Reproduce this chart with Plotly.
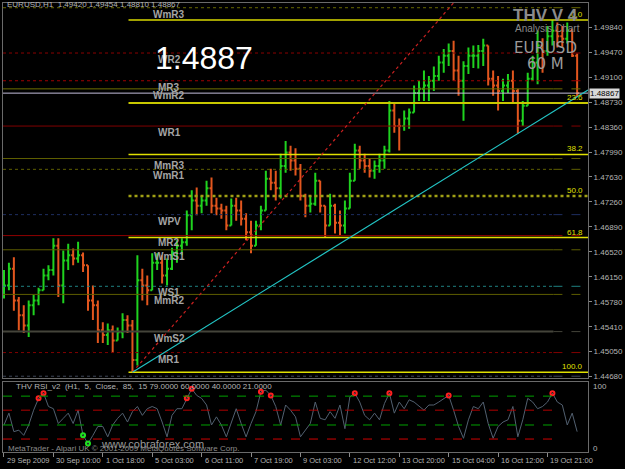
import plotly.graph_objects as go

# ---------------- data ----------------
open_first = 1.4590
high = [1.4625, 1.4636, 1.4644, 1.4585, 1.4573, 1.4580, 1.4588, 1.4599, 1.4627, 1.4632,
        1.4672, 1.4672, 1.4654, 1.4664, 1.4657, 1.4667, 1.4651, 1.4632, 1.4602, 1.4580,
        1.4548, 1.4546, 1.4543, 1.4540, 1.4561, 1.4558, 1.4551, 1.4647, 1.4627, 1.4617,
        1.4650, 1.4650, 1.4647, 1.4642, 1.4658, 1.4669, 1.4672, 1.4713, 1.4743, 1.4747,
        1.4735, 1.4757, 1.4762, 1.4732, 1.4723, 1.4720, 1.4731, 1.4732, 1.4728, 1.4709,
        1.4698, 1.4698, 1.4720, 1.4772, 1.4775, 1.4772, 1.4797, 1.4816, 1.4809, 1.4805,
        1.4782, 1.4738, 1.4735, 1.4769, 1.4757, 1.4720, 1.4738, 1.4723, 1.4713, 1.4728,
        1.4769, 1.4812, 1.4809, 1.4797, 1.4790, 1.4787, 1.4797, 1.4809, 1.4875, 1.4871,
        1.4849, 1.4861, 1.4864, 1.4898, 1.4905, 1.4920, 1.4912, 1.4926, 1.4942, 1.4952,
        1.4960, 1.4964, 1.4942, 1.4934, 1.4954, 1.4957, 1.4958, 1.4967, 1.4949, 1.4920,
        1.4912, 1.4908, 1.4915, 1.4920, 1.4893, 1.4875, 1.4917, 1.4942, 1.4979, 1.4968,
        1.4986, 1.4995, 1.4991, 1.4986, 1.4991, 1.4982, 1.49454]
low = [1.4583, 1.4595, 1.4565, 1.4536, 1.4532, 1.4526, 1.4558, 1.4573, 1.4595, 1.4610,
       1.4617, 1.4585, 1.4576, 1.4625, 1.4632, 1.4636, 1.4622, 1.4565, 1.4551, 1.4517,
       1.4517, 1.4514, 1.4503, 1.4521, 1.4524, 1.4532, 1.4474, 1.4484, 1.4580, 1.4573,
       1.4605, 1.4625, 1.4605, 1.4602, 1.4625, 1.4636, 1.4647, 1.4661, 1.4684, 1.4706,
       1.4709, 1.4720, 1.4709, 1.4706, 1.4701, 1.4684, 1.4691, 1.4698, 1.4691, 1.4669,
       1.4650, 1.4661, 1.4684, 1.4713, 1.4743, 1.4728, 1.4731, 1.4769, 1.4772, 1.4765,
       1.4728, 1.4703, 1.4710, 1.4720, 1.4710, 1.4673, 1.4695, 1.4679, 1.4676, 1.4679,
       1.4720, 1.4765, 1.4775, 1.4769, 1.4762, 1.4760, 1.4769, 1.4775, 1.4799, 1.4828,
       1.4802, 1.4831, 1.4834, 1.4861, 1.4875, 1.4875, 1.4875, 1.4890, 1.4905, 1.4917,
       1.4927, 1.4905, 1.4883, 1.4846, 1.4915, 1.4924, 1.4923, 1.4927, 1.4898, 1.4883,
       1.4861, 1.4875, 1.4887, 1.4871, 1.4827, 1.4838, 1.4868, 1.4905, 1.4900, 1.4917,
       1.4942, 1.4957, 1.4954, 1.4954, 1.4960, 1.4940, 1.4881]
close = [1.4602, 1.4627, 1.4580, 1.4558, 1.4543, 1.4573, 1.4580, 1.4595, 1.4617, 1.4625,
         1.4661, 1.4602, 1.4639, 1.4647, 1.4642, 1.4647, 1.4632, 1.4580, 1.4573, 1.4536,
         1.4529, 1.4536, 1.4521, 1.4533, 1.4551, 1.4543, 1.4492, 1.4610, 1.4602, 1.4595,
         1.4636, 1.4636, 1.4617, 1.4627, 1.4651, 1.4661, 1.4666, 1.4706, 1.4728, 1.4720,
         1.4728, 1.4746, 1.4720, 1.4716, 1.4713, 1.4691, 1.4720, 1.4713, 1.4701, 1.4681,
         1.4661, 1.4691, 1.4713, 1.4760, 1.4754, 1.4746, 1.4779, 1.4799, 1.4787, 1.4775,
         1.4735, 1.4720, 1.4723, 1.4757, 1.4720, 1.4691, 1.4720, 1.4695, 1.4691, 1.4716,
         1.4757, 1.4802, 1.4787, 1.4779, 1.4772, 1.4779, 1.4787, 1.4802, 1.4861, 1.4838,
         1.4838, 1.4849, 1.4858, 1.4887, 1.4893, 1.4898, 1.4905, 1.4912, 1.4932, 1.4942,
         1.4949, 1.4920, 1.4905, 1.4927, 1.4942, 1.4942, 1.4949, 1.4957, 1.4908, 1.4898,
         1.4890, 1.4898, 1.4905, 1.4890, 1.4846, 1.4868, 1.4908, 1.4932, 1.4957, 1.4949,
         1.4971, 1.4979, 1.4971, 1.4967, 1.4979, 1.4942, 1.48867]
rsi = [40, 56, 31, 33, 26, 40, 60, 76, 83, 65, 62, 42, 49, 56, 42, 60, 26, 15, 26, 38,
       38, 24, 40, 49, 56, 44, 58, 65, 53, 62, 65, 62, 44, 24, 53, 62, 62, 76, 89, 80,
       76, 67, 40, 51, 40, 24, 42, 62, 42, 24, 42, 58, 85, 87, 80, 65, 40, 67, 60, 51,
       24, 33, 42, 71, 49, 47, 58, 49, 67, 35, 78, 83, 71, 53, 47, 56, 47, 69, 83, 56,
       71, 62, 74, 71, 65, 60, 67, 67, 71, 76, 80, 60, 38, 22, 47, 65, 62, 71, 42, 22,
       38, 44, 47, 65, 24, 47, 76, 71, 62, 65, 71, 83, 71, 67, 40, 56, 31]
rsi_sell_signals = [7, 8, 37, 38, 52, 54, 71, 78, 90, 111]
rsi_buy_signals = [16, 17]
rsi_levels = [79, 60, 40, 21]

tick_bars = [0, 10, 20, 30, 40, 50, 60, 70, 80, 90, 100, 110]
tick_labels = ["29 Sep 2009", "30 Sep 10:00", "1 Oct 18:00", "5 Oct 03:00", "6 Oct 11:00",
               "7 Oct 19:00", "9 Oct 03:00", "12 Oct 12:00", "13 Oct 20:00", "15 Oct 04:00",
               "16 Oct 12:00", "19 Oct 21:00"]
price_ticks = [1.49840, 1.49470, 1.49100, 1.48730, 1.48360, 1.47990, 1.47630, 1.47260,
               1.46890, 1.46520, 1.46150, 1.45780, 1.45410, 1.45050, 1.44680]

pivot_names = ["WmR3", "WR2", "MR3", "WmR2", "WR1", "MmR3", "WmR1", "WPV", "MR2",
               "WmS1", "WS1", "MmR2", "WmS2", "MR1", ""]
pivot_prices = [1.5013, 1.4946, 1.4905, 1.4893, 1.4838, 1.4790, 1.4774, 1.4707, 1.4676,
                1.4655, 1.4601, 1.4589, 1.4534, 1.4503, 1.4468]
fib_ratios = [0.0, 23.6, 38.2, 50.0, 61.8, 100.0]
trend_anchor_bars = [26, 104]   # cyan trend line through these lows
gann_end_bar = 88               # red dotted line: swing low -> swing high level

# ---------------- styles ----------------
pivot_colors = ["#6a6a00", "#8a0000", "#a00000", "#707000", "#800000", "#5e5e00", "#5e5e00",
                "#1e2e60", "#900000", "#5e5e00", "#1f8080", "#5e5e00", "#44443a", "#800000", "#3e4656"]
pivot_dash = ["dot", "dot", "dot", "solid", "solid", "solid", "dot", "dot", "solid",
              "solid", "dot", "solid", "solid", "dot", "dot"]
pivot_width = [1, 1, 1, 1, 1, 1, 1, 1, 1, 1, 1, 1, 2, 1, 1]
fib_colors = ["#d8d800", "#c8c800", "#e0e000", "#a0a014", "#e0e000", "#e0e000"]
fib_width = [1.5, 2, 1.5, 2.5, 1.5, 1.5]
fib_dash = ["solid", "solid", "solid", "dot", "solid", "solid"]

N = len(close)
idx = list(range(N))
opens = [open_first] + close[:-1]
high = [max(h, o, c) for h, o, c in zip(high, opens, close)]
low = [min(l, o, c) for l, o, c in zip(low, opens, close)]

X0, X1 = -0.2, 118.2
Y0, Y1 = 1.44651, 1.50200
R0, R1 = 3.5, 97.9
TXT = "#b4b4b4"
FONT = "Liberation Sans"

fig = go.Figure()
fig.add_trace(go.Ohlc(x=idx, open=opens, high=high, low=low, close=close,
                      increasing=dict(line=dict(color="#1fd21f", width=2)),
                      decreasing=dict(line=dict(color="#e2561e", width=2)),
                      tickwidth=0.4, xaxis="x", yaxis="y", showlegend=False))

# RSI panel
fig.add_trace(go.Scatter(x=idx, y=rsi, mode="lines", line=dict(color="#526070", width=1),
                         xaxis="x2", yaxis="y2", showlegend=False))
fig.add_trace(go.Scatter(x=rsi_sell_signals, y=[rsi[i] for i in rsi_sell_signals], mode="markers",
                         marker=dict(symbol="circle-open", size=4, color="#ff2020", line=dict(width=2)),
                         xaxis="x2", yaxis="y2", showlegend=False))
fig.add_trace(go.Scatter(x=rsi_buy_signals, y=[rsi[i] for i in rsi_buy_signals], mode="markers",
                         marker=dict(symbol="circle-open", size=4, color="#20e020", line=dict(width=2)),
                         xaxis="x2", yaxis="y2", showlegend=False))
for lv, col in zip(rsi_levels, ["#00a000", "#b00000", "#00a000", "#d00000"]):
    fig.add_shape(type="line", xref="x2", yref="y2", x0=X0, x1=112.3, y0=lv, y1=lv,
                  line=dict(color=col, width=1, dash="dash"))

# pivot levels
dash_split = 111.2
for name, p, col, ds, w in zip(pivot_names, pivot_prices, pivot_colors, pivot_dash, pivot_width):
    fig.add_shape(type="line", xref="x", yref="y", x0=X0, x1=dash_split, y0=p, y1=p,
                  line=dict(color=col, width=w, dash=ds))
    fig.add_shape(type="line", xref="x", yref="y", x0=dash_split, x1=X1, y0=p, y1=p,
                  line=dict(color=col, width=1, dash="dash"))
    if name:
        fig.add_annotation(x=33.4, y=p, xref="x", yref="y", text="<b>%s</b>" % name,
                           showarrow=False, yanchor="top", xanchor="center", yshift=1,
                           font=dict(family=FONT, size=10, color="#a4a4a4"))

# fibonacci levels
lo_i = low.index(min(low))
fib_hi, fib_lo = max(high), min(low)
for r, col, w, ds in zip(fib_ratios, fib_colors, fib_width, fib_dash):
    p = fib_hi - (fib_hi - fib_lo) * r / 100.0
    fig.add_shape(type="line", xref="x", yref="y", x0=lo_i - 0.8, x1=X1, y0=p, y1=p,
                  line=dict(color=col, width=w, dash=ds))
    fig.add_annotation(x=1, y=p, xref="paper", yref="y", text="%.1f" % r, showarrow=False,
                       xanchor="right", yanchor="bottom", xshift=-3, yshift=-1,
                       font=dict(family=FONT, size=8, color="#e0e000"))

# current price line
fig.add_shape(type="line", xref="x", yref="y", x0=X0, x1=X1, y0=close[-1], y1=close[-1],
              line=dict(color="#c4bedc", width=1))

# red dotted line from swing low up to the swing-high level
slope_g = (fib_hi - fib_lo) / (gann_end_bar - lo_i)
xg = lo_i + (Y1 - fib_lo) / slope_g
fig.add_shape(type="line", xref="x", yref="y", x0=lo_i, y0=fib_lo, x1=xg, y1=Y1,
              line=dict(color="#c82020", width=1.2, dash="dot"))
# cyan trend line through two lows
a, b = trend_anchor_bars
slope_t = (low[b] - low[a]) / (b - a)
fig.add_shape(type="line", xref="x", yref="y", x0=a, y0=low[a], x1=X1,
              y1=low[a] + slope_t * (X1 - a), line=dict(color="#22c4c4", width=1.2))


def note(x, y, text, size, color, xa="center", ya="middle", family=FONT, **kw):
    fig.add_annotation(x=x, y=y, xref="paper", yref="paper", text=text, showarrow=False,
                       xanchor=xa, yanchor=ya, font=dict(family=family, size=size, color=color), **kw)


# big price text
note(0.343, 0.878, "%.4f" % close[-1], 32, "#ffffff")
# header texts
note(0.003, 0.996, "EURUSD,H1  1.49420 1.49454 1.48810 1.48867", 8, TXT, xa="left")
note(0.927, 0.973, "<b>THV V 4</b>", 17, "#8c8c8c")
note(0.930, 0.944, "Analysis Chart", 10, "#8a8a8a")
note(0.928, 0.900, "EURUSD", 15, "#9a9a9a", family="DejaVu Sans")
note(0.928, 0.864, "60 M", 15, "#9a9a9a", family="DejaVu Sans")

# current price tag on axis
fig.add_annotation(x=1, y=close[-1], xref="paper", yref="y", text="%.5f" % close[-1],
                   showarrow=False, xanchor="left", yanchor="middle", xshift=1,
                   bgcolor="#d8d8d8", borderpad=0,
                   font=dict(family=FONT, size=8, color="#000000"))

# RSI panel texts
note(0.019, 0.1467, "THV RSI_v2  (H1,  5,  Close,  85,  15 79.0000 60.0000 40.0000 21.0000", 8, TXT, xa="left")
note(1, 0.145, "100", 8, TXT, xa="left", xshift=3)
note(1, 0.0067, "0", 8, TXT, xa="left", xshift=3)
note(0.255, 0.0178, "www.cobraforex.com", 11, "#9a9a9a")
note(0.005, 0.0089, "MetaTrader - Alpari UK © 2001-2009 MetaQuotes Software Corp.", 8, "#8c8c8c", xa="left")

# date labels (left aligned next to tick marks)
for tb, tl in zip(tick_bars, tick_labels):
    fig.add_annotation(x=tb, y=-0.02, xref="x2", yref="paper", text=tl, showarrow=False,
                       xanchor="left", yanchor="middle", xshift=1,
                       font=dict(family=FONT, size=7.5, color=TXT))

axis_common = dict(showgrid=False, zeroline=False, showline=True, linecolor="#6a6a6a",
                   linewidth=1, mirror=True)
fig.update_layout(
    width=625, height=469, margin=dict(l=2, r=31, t=2, b=17),
    paper_bgcolor="#000000", plot_bgcolor="#000000", hovermode=False,
    xaxis=dict(domain=[0, 1], anchor="y", range=[X0, X1], showticklabels=False,
               rangeslider=dict(visible=False), **axis_common),
    yaxis=dict(domain=[0.1644, 1], anchor="x", range=[Y0, Y1], side="right",
               tickvals=price_ticks, ticktext=["%.5f" % v for v in price_ticks],
               ticks="outside", ticklen=3, tickcolor="#8a8a8a",
               tickfont=dict(family=FONT, size=8, color=TXT), **axis_common),
    xaxis2=dict(domain=[0, 1], anchor="y2", matches="x", range=[X0, X1], tickvals=tick_bars,
                ticks="outside", ticklen=4, tickcolor="#8a8a8a", showticklabels=False,
                **axis_common),
    yaxis2=dict(domain=[0, 0.1556], anchor="x2", range=[R0, R1], showticklabels=False,
                **axis_common),
)
fig.write_html("out.html")
